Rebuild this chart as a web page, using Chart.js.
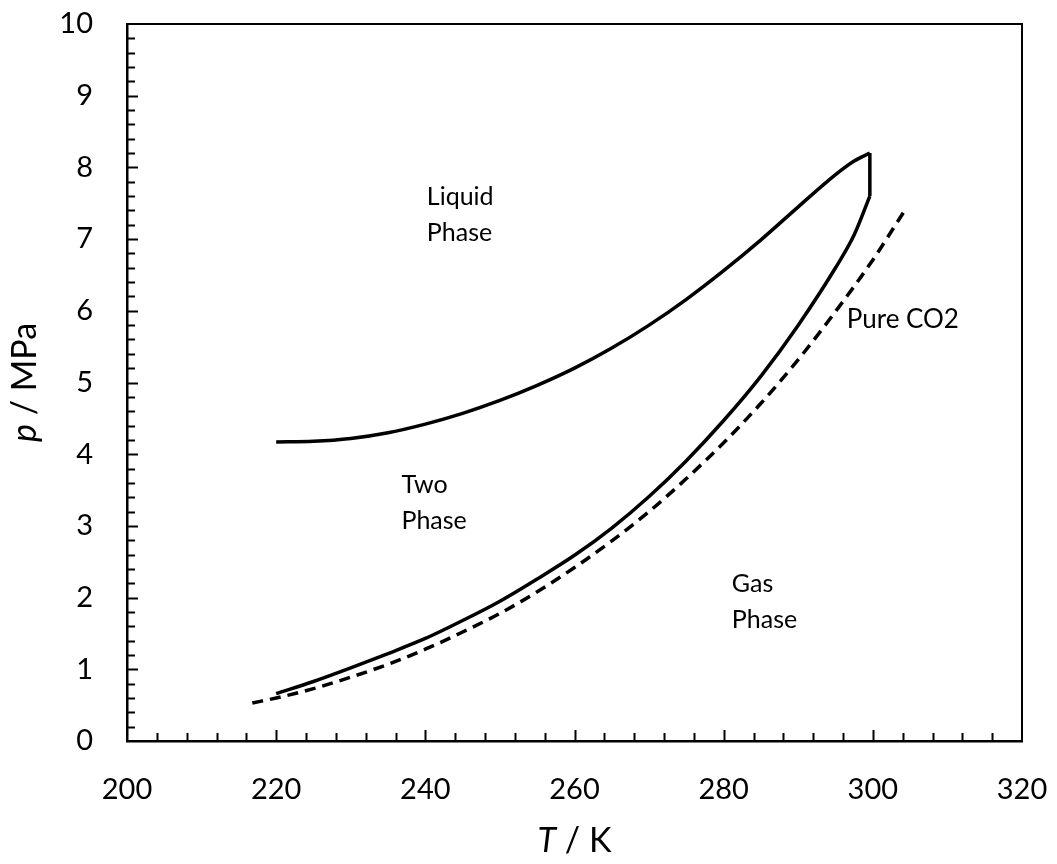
<!DOCTYPE html>
<html>
<head>
<meta charset="utf-8">
<script src="https://cdn.jsdelivr.net/npm/chart.js@4/dist/chart.umd.min.js"></script>
<style>
  body { margin: 0; background: #fff; }
  canvas { display: block; }
</style>
</head>
<body>
<canvas id="phase" width="1057" height="864"></canvas>
<script>
// Bubble curve (liquid boundary), T in K, p in MPa
const bubbleT = [220, 225, 230, 235, 240, 245, 250, 255, 260, 265, 270, 275, 280, 285, 290, 295, 297.5, 299.6];
const bubbleP = [4.17, 4.18, 4.22, 4.30, 4.42, 4.57, 4.75, 4.96, 5.20, 5.48, 5.80, 6.16, 6.56, 6.99, 7.45, 7.90, 8.09, 8.20];

// Dew curve (gas boundary)
const dewT = [220, 225, 230, 235, 240, 245, 250, 255, 260, 265, 270, 275, 280, 285, 290, 295, 297.5, 299.6];
const dewP = [0.66, 0.83, 1.02, 1.22, 1.43, 1.68, 1.95, 2.26, 2.59, 2.97, 3.41, 3.91, 4.47, 5.09, 5.80, 6.60, 7.06, 7.60];

// vertical closing segment at the top
const closeT = [299.6, 299.6];
const closeP = [8.20, 7.60];

// pure CO2 vapour pressure (dashed)
const co2T = [216.8, 220, 225, 230, 235, 240, 245, 250, 255, 260, 265, 270, 275, 280, 285, 290, 295, 300, 304.1];
const co2P = [0.53, 0.60, 0.73, 0.89, 1.07, 1.28, 1.52, 1.78, 2.08, 2.42, 2.79, 3.20, 3.66, 4.16, 4.71, 5.32, 5.99, 6.71, 7.37];

// region notes, anchored in data units (T, p of first baseline)
const notes = [
    { lines: ["Liquid", "Phase"], T: 240.2, p: 7.475, size: 25 },
    { lines: ["Two", "Phase"], T: 236.8, p: 3.46, size: 25 },
    { lines: ["Gas", "Phase"], T: 281.1, p: 2.08, size: 25 },
    { lines: ["Pure CO2"], T: 296.5, p: 5.76, size: 26 }
];

const FONT = 'Lato, "Open Sans", sans-serif';

const toPoints = (xs, ys) => xs.map((x, i) => ({ x, y: ys[i] }));

// frame, inward ticks, axis titles and region notes
const decorations = {
    id: "decorations",
    afterDraw(chart){
        const { ctx, chartArea: a, scales: { x, y } } = chart;
        ctx.save();
        ctx.strokeStyle = "#000";

        // top + right frame
        ctx.lineWidth = 2;
        ctx.beginPath();
        ctx.moveTo(a.left, a.top);
        ctx.lineTo(a.right, a.top);
        ctx.lineTo(a.right, a.bottom);
        ctx.stroke();

        // ticks pointing into the plot
        ctx.lineWidth = 2;
        ctx.beginPath();
        for(let i = 1; i < 30; i++){
            const px = Math.round(x.getPixelForValue(200 + i * 4)) + 0.5;
            const len = i % 5 === 0 ? 11 : 8;
            ctx.moveTo(px, a.bottom);
            ctx.lineTo(px, a.bottom - len);
        }
        for(let i = 1; i < 50; i++){
            const py = Math.round(y.getPixelForValue(i * 0.2)) + 0.5;
            const len = i % 5 === 0 ? 11 : 8;
            ctx.moveTo(a.left, py);
            ctx.lineTo(a.left + len, py);
        }
        ctx.stroke();

        ctx.fillStyle = "#000";

        // titles with an italic symbol
        const drawMixed = (parts, cx, cy) => {
            let total = 0;
            parts.forEach(p => { ctx.font = p.font; total += ctx.measureText(p.text).width; });
            let cur = cx - total / 2;
            ctx.textAlign = "left";
            ctx.textBaseline = "alphabetic";
            parts.forEach(p => {
                ctx.font = p.font;
                ctx.fillText(p.text, cur, cy);
                cur += ctx.measureText(p.text).width;
            });
        };

        drawMixed([
            { text: "T", font: `italic 34px ${FONT}` },
            { text: " / K", font: `34px ${FONT}` }
        ], (a.left + a.right) / 2, 852);

        ctx.save();
        ctx.translate(36, (a.top + a.bottom) / 2);
        ctx.rotate(-Math.PI / 2);
        drawMixed([
            { text: "p", font: `italic 34px ${FONT}` },
            { text: " / MPa", font: `34px ${FONT}` }
        ], 0, 0);
        ctx.restore();

        // region notes
        ctx.textAlign = "left";
        ctx.textBaseline = "alphabetic";
        notes.forEach(n => {
            ctx.font = `${n.size}px ${FONT}`;
            const nx = x.getPixelForValue(n.T);
            const ny = y.getPixelForValue(n.p);
            n.lines.forEach((line, i) => ctx.fillText(line, nx, ny + i * 36));
        });

        ctx.restore();
    }
};

const solid = {
    showLine: true,
    borderColor: "#000",
    borderWidth: 3.5,
    pointRadius: 0,
    fill: false,
    cubicInterpolationMode: "monotone"
};

new Chart(document.getElementById("phase"), {
    type: "scatter",
    data: {
        datasets: [
            { ...solid, label: "Bubble", data: toPoints(bubbleT, bubbleP) },
            { ...solid, label: "Dew", data: toPoints(dewT, dewP) },
            { ...solid, label: "Close", data: toPoints(closeT, closeP), cubicInterpolationMode: "default" },
            { ...solid, label: "Pure CO2", data: toPoints(co2T, co2P), borderDash: [11, 7] }
        ]
    },
    options: {
        responsive: false,
        animation: false,
        layout: { padding: { top: 24, right: 35, left: 0, bottom: 0 } },
        plugins: {
            legend: { display: false },
            tooltip: { enabled: false }
        },
        scales: {
            x: {
                type: "linear",
                min: 200,
                max: 320,
                // tick marks are drawn by the plugin; tickLength only spaces the labels
                grid: { display: false, drawTicks: true, tickLength: 31 },
                border: { display: true, color: "#000", width: 2.5 },
                ticks: {
                    stepSize: 20,
                    padding: 0,
                    color: "#000",
                    font: { family: FONT, size: 29 }
                },
                afterFit: (scale) => { scale.height = 123; }
            },
            y: {
                type: "linear",
                min: 0,
                max: 10,
                grid: { display: false, drawTicks: true, tickLength: 34 },
                border: { display: true, color: "#000", width: 2.5 },
                ticks: {
                    stepSize: 1,
                    padding: 0,
                    color: "#000",
                    font: { family: FONT, size: 29 }
                },
                afterFit: (scale) => { scale.width = 127; }
            }
        }
    },
    plugins: [decorations]
});
</script>
</body>
</html>
